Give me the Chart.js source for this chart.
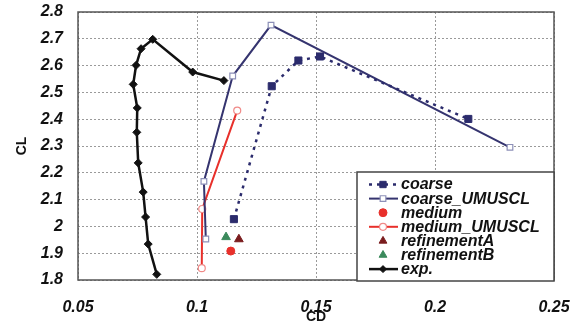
<!DOCTYPE html>
<html>
<head>
<meta charset="utf-8">
<script src="https://cdn.jsdelivr.net/npm/chart.js@4/dist/chart.umd.min.js"></script>
<style>
  body { margin: 0; background: #fff; }
  #wrap { width: 580px; height: 326px; position: relative; }
</style>
</head>
<body>
<div id="wrap"><canvas id="grafico"></canvas></div>
<script>
// valores (CD en x, CL en y)
const coarseCD = [0.1155, 0.1314, 0.1426, 0.1517, 0.2140];
const coarseCL = [2.027, 2.523, 2.619, 2.634, 2.401];

const coarseUmCD = [0.1037, 0.1029, 0.1150, 0.1311, 0.2315];
const coarseUmCL = [1.953, 2.168, 2.561, 2.751, 2.295];

const mediumCD = [0.1142];
const mediumCL = [1.908];

const mediumUmCD = [0.1020, 0.1022, 0.1169];
const mediumUmCL = [1.844, 2.065, 2.432];

const refACD = [0.1176];
const refACL = [1.952];

const refBCD = [0.1122];
const refBCL = [1.960];

const expCD = [0.0831, 0.0795, 0.0784, 0.0774, 0.0753, 0.0747, 0.0749, 0.0732, 0.0744, 0.0765, 0.0814, 0.0982, 0.1113];
const expCL = [1.821, 1.934, 2.035, 2.128, 2.237, 2.351, 2.442, 2.530, 2.601, 2.663, 2.698, 2.576, 2.544];

// ejes
const xRango = [0.05, 0.25];
const yRango = [1.8, 2.8];

const pares = (xs, ys) => xs.map((x, i) => ({ x: x, y: ys[i] }));
// etiquetas sin ceros de sobra: 2, 0.1, 0.15 ...
const formato = (v) => String(Number(v.toFixed(2)));

const fuenteTicks = { family: 'Arial, "Liberation Sans", sans-serif', size: 16, weight: 'bold', style: 'italic' };

// marco del area de grafico + leyenda dibujada a mano
const marcoYLeyenda = {
  id: 'marcoYLeyenda',
  afterDraw(chart) {
    const ctx = chart.ctx;
    const a = chart.chartArea;
    ctx.save();
    ctx.strokeStyle = '#555';
    ctx.lineWidth = 1.5;
    ctx.strokeRect(a.left, a.top, a.right - a.left, a.bottom - a.top);

    // leyenda
    const w = 197, h = 109;
    const lx = a.right - w, ly = a.bottom - h + 1;
    ctx.fillStyle = '#fff';
    ctx.fillRect(lx, ly, w, h);
    ctx.strokeStyle = '#444';
    ctx.strokeRect(lx, ly, w, h);

    chart.data.datasets.forEach((ds, i) => {
      const y = ly + 12.5 + i * 14.1;
      const cx = lx + 26;
      if (ds.showLine) {
        ctx.beginPath();
        ctx.setLineDash(ds.borderDash || []);
        ctx.strokeStyle = ds.borderColor;
        ctx.lineWidth = ds.borderWidth;
        ctx.moveTo(lx + 12, y);
        ctx.lineTo(lx + 41, y);
        ctx.stroke();
        ctx.setLineDash([]);
      }
      ctx.fillStyle = ds.pointBackgroundColor;
      ctx.strokeStyle = ds.pointBorderColor;
      ctx.lineWidth = ds.pointBorderWidth;
      Chart.helpers.drawPoint(ctx, {
        pointStyle: ds.pointStyle,
        radius: ds.leyendaRadio,
        borderWidth: ds.pointBorderWidth,
        rotation: 0
      }, cx, y);
      ctx.fillStyle = '#111';
      ctx.font = 'italic bold 16px Arial, "Liberation Sans", sans-serif';
      ctx.textBaseline = 'middle';
      ctx.textAlign = 'left';
      ctx.fillText(ds.label, lx + 44, y + 0.5);
    });
    ctx.restore();
  }
};

const ctx = document.getElementById('grafico').getContext('2d');
const myChart = new Chart(ctx, {
  type: 'scatter',
  data: {
    datasets: [{
      label: 'coarse',
      data: pares(coarseCD, coarseCL),
      showLine: true,
      borderColor: '#2b2b6c',
      borderWidth: 2.5,
      borderDash: [3, 5],
      pointStyle: 'rect',
      pointRadius: 5,
      leyendaRadio: 4.5,
      pointBackgroundColor: '#2b2b6c',
      pointBorderColor: '#2b2b6c',
      pointBorderWidth: 1
    }, {
      label: 'coarse_UMUSCL',
      data: pares(coarseUmCD, coarseUmCL),
      showLine: true,
      borderColor: '#35346f',
      borderWidth: 2,
      pointStyle: 'rect',
      pointRadius: 4,
      leyendaRadio: 4,
      pointBackgroundColor: '#fff',
      pointBorderColor: '#8d90b8',
      pointBorderWidth: 1.2
    }, {
      label: 'medium',
      data: pares(mediumCD, mediumCL),
      showLine: false,
      borderColor: '#e8302b',
      pointStyle: 'circle',
      pointRadius: 4,
      leyendaRadio: 4,
      pointBackgroundColor: '#e8302b',
      pointBorderColor: '#e8302b',
      pointBorderWidth: 1
    }, {
      label: 'medium_UMUSCL',
      data: pares(mediumUmCD, mediumUmCL),
      showLine: true,
      borderColor: '#e8302b',
      borderWidth: 2,
      pointStyle: 'circle',
      pointRadius: 3.5,
      leyendaRadio: 3.5,
      pointBackgroundColor: '#fff',
      pointBorderColor: '#f08a88',
      pointBorderWidth: 1.2
    }, {
      label: 'refinementA',
      data: pares(refACD, refACL),
      showLine: false,
      borderColor: '#7a1c1e',
      pointStyle: 'triangle',
      pointRadius: 5,
      leyendaRadio: 4.5,
      pointBackgroundColor: '#7a1c1e',
      pointBorderColor: '#7a1c1e',
      pointBorderWidth: 1
    }, {
      label: 'refinementB',
      data: pares(refBCD, refBCL),
      showLine: false,
      borderColor: '#3b8a5c',
      pointStyle: 'triangle',
      pointRadius: 5,
      leyendaRadio: 4.5,
      pointBackgroundColor: '#3b8a5c',
      pointBorderColor: '#3b8a5c',
      pointBorderWidth: 1
    }, {
      label: 'exp.',
      data: pares(expCD, expCL),
      showLine: true,
      borderColor: '#111',
      borderWidth: 2.5,
      pointStyle: 'rectRot',
      pointRadius: 4,
      leyendaRadio: 3.5,
      pointBackgroundColor: '#111',
      pointBorderColor: '#111',
      pointBorderWidth: 1
    }]
  },
  options: {
    responsive: true,
    maintainAspectRatio: false,
    animation: false,
    layout: { padding: { top: 12, right: 26, left: 0, bottom: 0 } },
    plugins: {
      legend: { display: false },
      tooltip: { enabled: false }
    },
    scales: {
      x: {
        type: 'linear',
        min: xRango[0],
        max: xRango[1],
        afterFit: (s) => { s.height = 46; s.paddingLeft = 0; s.paddingRight = 0; },
        ticks: { stepSize: 0.05, color: '#111', font: fuenteTicks, padding: 18, callback: formato },
        grid: { color: '#9a9a9a', lineWidth: 1, drawTicks: false },
        border: { display: false, dash: [2, 2] },
        title: {
          display: true, text: 'CD', color: '#111', padding: { top: 0, bottom: 0 },
          font: { family: 'Arial, "Liberation Sans", sans-serif', size: 14, weight: 'bold' }
        }
      },
      y: {
        type: 'linear',
        min: yRango[0],
        max: yRango[1],
        afterFit: (s) => { s.width = 78; s.paddingTop = 0; s.paddingBottom = 0; },
        ticks: { stepSize: 0.1, color: '#111', font: fuenteTicks, padding: 15, callback: formato },
        grid: { color: '#9a9a9a', lineWidth: 1, drawTicks: false },
        border: { display: false, dash: [2, 2] },
        title: {
          display: true, text: 'CL', color: '#111', padding: { top: 14, bottom: 0 },
          font: { family: 'Arial, "Liberation Sans", sans-serif', size: 14, weight: 'bold' }
        }
      }
    }
  },
  plugins: [marcoYLeyenda]
});
</script>
</body>
</html>
